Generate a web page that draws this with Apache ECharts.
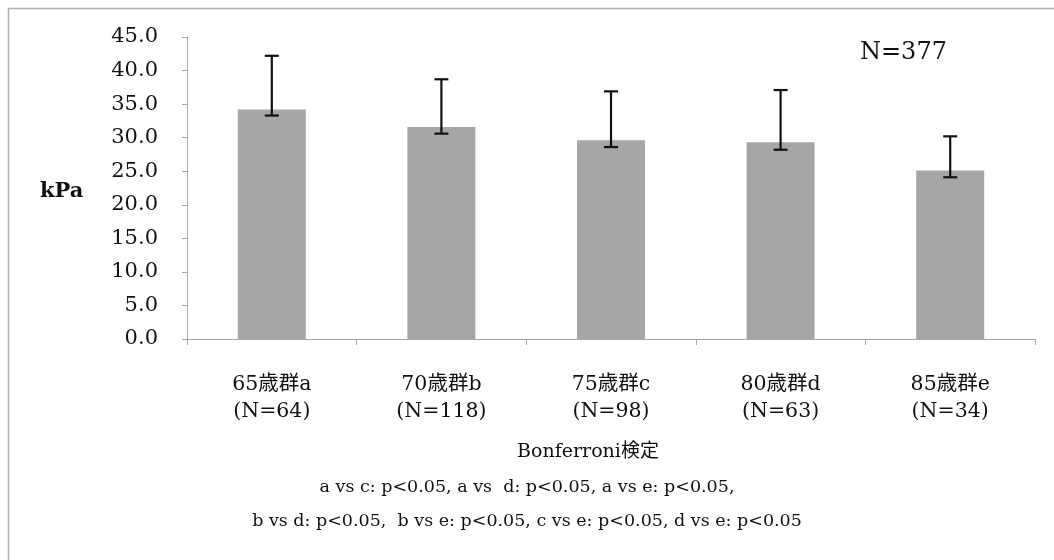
<!DOCTYPE html>
<html>
<head>
<meta charset="utf-8">
<script src="https://cdn.jsdelivr.net/npm/echarts@6/dist/echarts.min.js"></script>
<style>
  html, body { margin: 0; padding: 0; background: #fff; }
  #chart { width: 1054px; height: 560px; }
</style>
</head>
<body>
<div id="chart"></div>
<script>
// Age groups and their sample sizes
const categories = ['65歳群a', '70歳群b', '75歳群c', '80歳群d', '85歳群e'];
const groupN = [64, 118, 98, 63, 34];
// Mean pressure (kPa) per group
const means = [34.2, 31.6, 29.6, 29.3, 25.1];
// Error bar ends (kPa)
const errLow = [33.3, 30.6, 28.6, 28.2, 24.1];
const errHigh = [42.2, 38.7, 36.9, 37.1, 30.2];
const yTicks = { min: 0, max: 45, interval: 5 };
const totalLabel = 'N=377';
const testTitle = 'Bonferroni検定';
const testLines = [
  'a vs c: p<0.05, a vs  d: p<0.05, a vs e: p<0.05,',
  'b vs d: p<0.05,  b vs e: p<0.05, c vs e: p<0.05, d vs e: p<0.05'
];

const SERIF = '"DejaVu Serif", "Liberation Serif", "Noto Sans CJK JP", serif';
const axisGray = '#a8a8a8';

const chart = echarts.init(document.getElementById('chart'), null, { renderer: 'canvas' });

const errData = categories.map((c, i) => [i, errLow[i], errHigh[i]]);

chart.setOption({
  backgroundColor: '#ffffff',
  animation: false,
  grid: { left: 187, right: 19, top: 37, bottom: 221 },
  xAxis: {
    type: 'category',
    data: categories.map((c, i) => c + '\n(N=' + groupN[i] + ')'),
    axisLine: { lineStyle: { color: axisGray, width: 1 } },
    axisTick: { show: true, length: 6, lineStyle: { color: axisGray } },
    axisLabel: {
      color: '#111', fontFamily: SERIF, fontSize: 20.5, lineHeight: 27, margin: 32
    }
  },
  yAxis: {
    type: 'value',
    min: yTicks.min, max: yTicks.max, interval: yTicks.interval,
    axisLine: { show: true, lineStyle: { color: axisGray, width: 1 } },
    axisTick: { show: true, length: 5, lineStyle: { color: axisGray } },
    splitLine: { show: false },
    axisLabel: {
      color: '#111', fontFamily: SERIF, fontSize: 21, margin: 29,
      formatter: v => v.toFixed(1)
    }
  },
  series: [
    {
      type: 'bar',
      data: means,
      barWidth: 68,
      itemStyle: { color: '#a6a6a6' }
    },
    {
      type: 'custom',
      data: errData,
      z: 10,
      renderItem: function (params, api) {
        const x = api.value(0);
        const lo = api.coord([x, api.value(1)]);
        const hi = api.coord([x, api.value(2)]);
        const half = 7;
        const style = { stroke: '#111', lineWidth: 2.2 };
        return {
          type: 'group',
          children: [
            { type: 'line', shape: { x1: lo[0], y1: lo[1], x2: hi[0], y2: hi[1] }, style },
            { type: 'line', shape: { x1: hi[0] - half, y1: hi[1], x2: hi[0] + half, y2: hi[1] }, style },
            { type: 'line', shape: { x1: lo[0] - half, y1: lo[1], x2: lo[0] + half, y2: lo[1] }, style }
          ]
        };
      }
    }
  ],
  graphic: [
    {
      type: 'rect', silent: true, z: -1,
      shape: { x: 8.5, y: 8.5, width: 1080, height: 600 },
      style: { fill: 'none', stroke: '#b0b0b0', lineWidth: 1.5 }
    },
    {
      type: 'text', left: 40, top: 181,
      style: { text: 'kPa', font: 'bold 21px ' + SERIF, fill: '#111' }
    },
    {
      type: 'text', left: 860, top: 41,
      style: { text: totalLabel, font: '24px ' + SERIF, fill: '#111' }
    },
    {
      type: 'text', x: 588, y: 452,
      style: { text: testTitle, font: '19px ' + SERIF, fill: '#111', textAlign: 'center', textVerticalAlign: 'middle' }
    },
    {
      type: 'text', x: 527, y: 487,
      style: { text: testLines[0], font: '17.5px ' + SERIF, fill: '#111', textAlign: 'center', textVerticalAlign: 'middle' }
    },
    {
      type: 'text', x: 527, y: 521,
      style: { text: testLines[1], font: '17.5px ' + SERIF, fill: '#111', textAlign: 'center', textVerticalAlign: 'middle' }
    }
  ]
});
</script>
</body>
</html>
